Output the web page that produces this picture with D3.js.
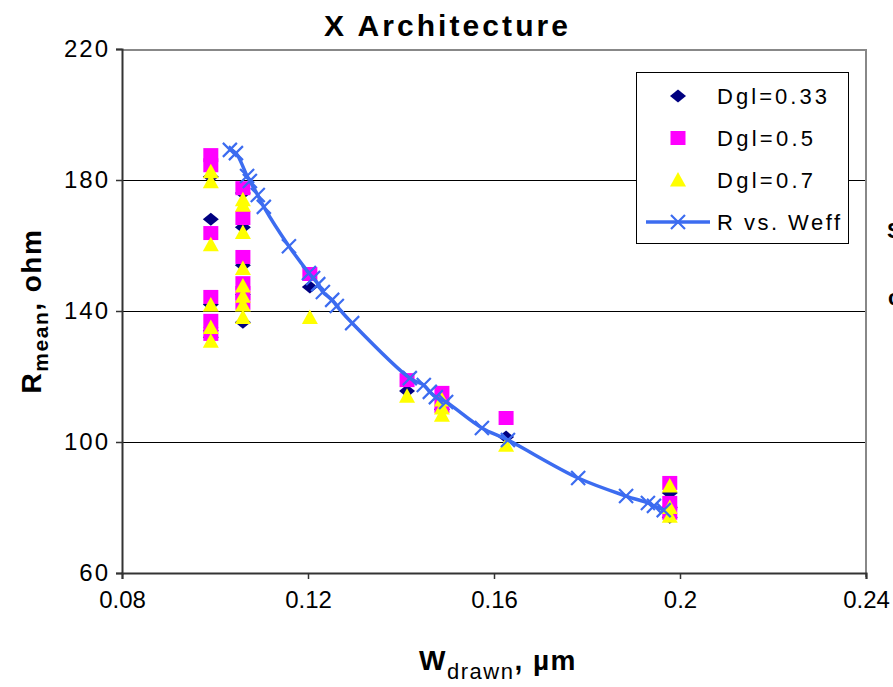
<!DOCTYPE html>
<html><head><meta charset="utf-8">
<script src="https://cdn.jsdelivr.net/npm/d3@7/dist/d3.min.js"></script>
<style>
body{margin:0;background:#fff;}
svg{font-family:"Liberation Sans",Arial,sans-serif;}
</style></head>
<body><svg id="c" width="893" height="687"></svg>
<script>
// ---- data ----
const seriesNames = ["Dgl=0.33","Dgl=0.5","Dgl=0.7","R vs. Weff"];
const d033x = [0.0991,0.0991,0.0991,0.0991,0.0991,0.106,0.106,0.106,0.106,0.106,0.1204,0.1413,0.1488,0.1488,0.1626,0.1978,0.1978,0.1978];
const d033y = [181,168,142,134,132,176,165.6,154,145,136.6,147.3,115.6,113,110,101.5,84.4,80,77];
const d05x  = [0.0991,0.0991,0.0991,0.0991,0.0991,0.0991,0.106,0.106,0.106,0.106,0.106,0.106,0.1204,0.1413,0.1488,0.1488,0.1626,0.1978,0.1978,0.1978];
const d05y  = [187.6,184.5,163.8,144.3,137,133,177.5,168.4,156.5,148.5,145.5,142.5,151.3,118.9,115,111,107.3,87.5,81.4,78.4];
const d07x  = [0.0991,0.0991,0.0991,0.0991,0.0991,0.0991,0.106,0.106,0.106,0.106,0.106,0.106,0.106,0.106,0.1204,0.1413,0.1488,0.1488,0.1488,0.1626,0.1978,0.1978,0.1978];
const d07y  = [182.5,179.5,160.2,141.8,135,130.8,174,172.3,164,153,147.6,144.5,141.8,138,138,114,112.8,110.4,108.2,99,86.6,80,77.3];
const weffX = [0.1032,0.1045,0.1069,0.1075,0.1092,0.1105,0.1159,0.1202,0.1211,0.1222,0.1232,0.1252,0.1262,0.1295,0.1419,0.1449,0.1462,0.1475,0.1497,0.1574,0.1630,0.1781,0.1884,0.1931,0.1944,0.1965];
const weffY = [189.2,188.2,181.2,179.7,175.4,171.8,159.8,151.6,150.1,148.2,145.8,143.4,141.5,136.3,119.5,117.4,115.3,113.7,112.2,104.3,100.6,89.0,83.5,81.4,80.5,79.2];
const xTicks = [0.08,0.12,0.16,0.2,0.24];
const xTickLabels = ["0.08","0.12","0.16","0.2","0.24"];
const yTicks = [60,100,140,180,220];
const yTickLabels = ["60","100","140","180","220"];
const gridVals = [100,140,180];

const cNavy="#000080", cMag="#ff00ff", cYel="#ffff00", cBlue="#3c6cf0";

const svg = d3.select("#c");
const x = d3.scaleLinear().domain([0.08,0.24]).range([122,866]);
const y = d3.scaleLinear().domain([60,220]).range([573,49]);

// title
svg.append("text").attr("x",446).attr("y",36).attr("text-anchor","middle")
  .attr("font-size",30).attr("font-weight","bold").attr("textLength",244).attr("lengthAdjust","spacing")
  .text("X Architecture");

// gridlines
svg.append("g").selectAll("line").data(gridVals).join("line")
  .attr("x1",x(0.08)).attr("x2",x(0.24)).attr("y1",d=>y(d)+0.5).attr("y2",d=>y(d)+0.5)
  .attr("stroke","#000").attr("stroke-width",1);

// top and right border
svg.append("path").attr("d",`M${x(0.08)},${y(220)+1}H${x(0.24)}V${y(60)+4}`)
  .attr("fill","none").attr("stroke","#888").attr("stroke-width",2);

// axes
const yAx = svg.append("g").attr("transform",`translate(${x(0.08)},0)`)
  .call(d3.axisLeft(y).tickValues(yTicks).tickSize(6).tickPadding(6).tickFormat((d,i)=>yTickLabels[i]));
const xAx = svg.append("g").attr("transform",`translate(0,${y(60)})`)
  .call(d3.axisBottom(x).tickValues(xTicks).tickSize(6).tickPadding(12).tickFormat((d,i)=>xTickLabels[i]));
[yAx,xAx].forEach(g=>{
  g.select(".domain").attr("stroke","#333").attr("stroke-width",2);
  g.selectAll(".tick line").attr("stroke","#333").attr("stroke-width",1.5);
  g.selectAll(".tick text").attr("font-size",24).attr("fill","#000")
    .attr("font-family","Liberation Sans, Arial, sans-serif");
});
yAx.selectAll(".tick text").style("letter-spacing","2px");

// right-side cut-off text
svg.append("text").attr("x",887).attr("y",238).attr("font-size",22).attr("font-weight","bold").text("S");
svg.append("text").attr("x",888).attr("y",305).attr("font-size",22).attr("font-weight","bold").text("c");

// axis titles
const yt = svg.append("text").attr("transform","translate(41,311) rotate(-90)")
  .attr("text-anchor","middle").attr("font-size",28).attr("font-weight","bold").style("letter-spacing","1.5px");
yt.append("tspan").text("R");
yt.append("tspan").attr("font-size",21).attr("dy",7).text("mean");
yt.append("tspan").attr("dy",-7).text(", ohm");

const xt = svg.append("text").attr("x",498).attr("y",670)
  .attr("text-anchor","middle").attr("font-size",28).attr("font-weight","bold").style("letter-spacing","1.5px");
xt.append("tspan").text("W");
xt.append("tspan").attr("font-size",22).attr("font-weight","normal").attr("dy",9).text("drawn");
xt.append("tspan").attr("dy",-9).text(", \u00b5m");

// marker shapes
const diamond = (cx,cy)=>`M${cx-8},${cy}L${cx},${cy-6.5}L${cx+8},${cy}L${cx},${cy+6.5}Z`;
const square = (cx,cy)=>`M${cx-7.5},${cy-7}h15v14h-15Z`;
const tri = (cx,cy)=>`M${cx},${cy-8}L${cx+8},${cy+6.5}L${cx-8},${cy+6.5}Z`;
const cross = (cx,cy)=>`M${cx-7},${cy-7}L${cx+7},${cy+7}M${cx-7},${cy+7}L${cx+7},${cy-7}`;

const plot = svg.append("g");
plot.selectAll(".d").data(d033x).join("path").attr("d",(d,i)=>diamond(x(d),y(d033y[i]))).attr("fill",cNavy);
plot.selectAll(".s").data(d05x).join("path").attr("d",(d,i)=>square(x(d),y(d05y[i]))).attr("fill",cMag);
plot.selectAll(".t").data(d07x).join("path").attr("d",(d,i)=>tri(x(d),y(d07y[i]))).attr("fill",cYel);

const line = d3.line().x(d=>x(d[0])).y(d=>y(d[1])).curve(d3.curveCatmullRom.alpha(0.5));
const weff = weffX.map((d,i)=>[d,weffY[i]]);
plot.append("path").datum(weff).attr("d",line).attr("fill","none").attr("stroke",cBlue).attr("stroke-width",3.5);
plot.selectAll(".x").data(weff).join("path").attr("d",d=>cross(x(d[0]),y(d[1])))
  .attr("stroke",cBlue).attr("stroke-width",2.2).attr("fill","none");

// legend
const lg = svg.append("g");
lg.append("rect").attr("x",636.5).attr("y",72.5).attr("width",212).attr("height",171)
  .attr("fill","#fff").attr("stroke","#000").attr("stroke-width",1);
const rowY = [96,138,180,222];
lg.append("path").attr("d",diamond(678,rowY[0])).attr("fill",cNavy);
lg.append("path").attr("d",square(678,rowY[1])).attr("fill",cMag);
lg.append("path").attr("d",tri(678,rowY[2])).attr("fill",cYel);
lg.append("line").attr("x1",646).attr("x2",710).attr("y1",rowY[3]).attr("y2",rowY[3]).attr("stroke",cBlue).attr("stroke-width",3.5);
lg.append("path").attr("d",cross(678,rowY[3])).attr("stroke",cBlue).attr("stroke-width",2.2);
const lw = [110,96,96,123];
lg.selectAll("text.l").data(seriesNames).join("text")
  .attr("x",717).attr("y",(d,i)=>rowY[i]+8).attr("font-size",22)
  .attr("textLength",(d,i)=>lw[i]).attr("lengthAdjust","spacing").text(d=>d);
</script></body></html>
